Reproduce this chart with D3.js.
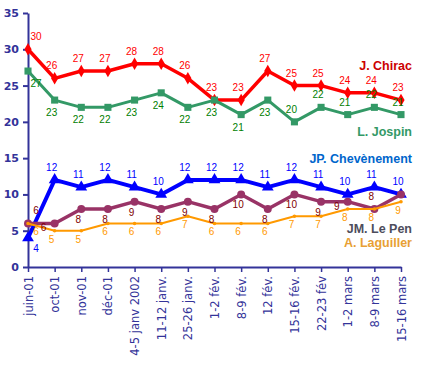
<!DOCTYPE html>
<html lang="fr">
<head>
<meta charset="UTF-8">
<title>Intentions de vote 2001-2002</title>
<script src="https://d3js.org/d3.v7.min.js"></script>
<style>
  body { margin: 0; background: #fff; }
  svg { display: block; }
</style>
</head>
<body>
<svg id="chart" width="421" height="367"></svg>
<script>
// categories (poll dates)
const dates = ["juin-01", "oct-01", "nov-01", "déc-01", "4-5 janv 2002", "11-12 janv.",
  "25-26 janv.", "1-2 fév.", "8-9 fév.", "12 fév.", "15-16 fév.", "22-23 fév",
  "1-2 mars", "8-9 mars", "15-16 mars"];

// series values
const chirac      = [30, 26, 27, 27, 28, 28, 26, 23, 23, 27, 25, 25, 24, 24, 23];
const jospin      = [27, 23, 22, 22, 23, 24, 22, 23, 21, 23, 20, 22, 21, 22, 21];
const chevenement = [4, 12, 11, 12, 11, 10, 12, 12, 12, 11, 12, 11, 10, 11, 10];
const lepen       = [6, 6, 8, 8, 9, 8, 9, 8, 10, 8, 10, 9, 9, 8, 10];
const laguiller   = [6, 5, 5, 6, 6, 6, 7, 6, 6, 6, 7, 7, 8, 8, 9];

const yTicks = [0, 5, 10, 15, 20, 25, 30, 35];

const svg = d3.select("#chart");
const axisColor = "#333399";

const x = d3.scalePoint().domain(dates).range([28, 401]);
const y = d3.scaleLinear().domain([0, 35]).range([267, 13]);

// label placement per point: "above", "below", "left" or null (hidden)
const series = [
  { name: "J. Chirac", values: chirac, color: "#ff0000", labelColor: "#ff0000", nameColor: "#cc0000",
    width: 3.5, marker: d3.symbolDiamond, size: 45, nameY: 70, below: 14,
    place: () => "above" },
  { name: "L. Jospin", values: jospin, color: "#339966", labelColor: "#008000", nameColor: "#339966",
    width: 3, marker: d3.symbolSquare, size: 50, nameY: 136, below: 16,
    place: (d, i) => i >= 10 ? "above" : "below" },
  { name: "JP. Chevènement", values: chevenement, color: "#0000ff", labelColor: "#0000ff", nameColor: "#0066cc",
    width: 4, marker: d3.symbolTriangle, size: 60, nameY: 163, below: 14,
    place: (d, i) => d < lepen[i] ? "below" : "above" },
  { name: "JM. Le Pen", values: lepen, color: "#993366", labelColor: "#800000", nameColor: "#4d4d5c",
    width: 3.5, marker: d3.symbolCircle, size: 50, nameY: 233, below: 14,
    place: (d, i) => d === chevenement[i] ? null
      : d <= laguiller[i] ? "above"
      : d - laguiller[i] <= 1 ? "left" : "below" },
  { name: "A. Laguiller", values: laguiller, color: "#ff9900", labelColor: "#ff9900", nameColor: "#e8a033",
    width: 2, marker: d3.symbolCircle, size: 10, nameY: 247, below: 12,
    place: () => "below" }
];

// y axis
const yAxis = svg.append("g")
  .attr("transform", "translate(28,0)")
  .call(d3.axisLeft(y).tickValues(yTicks).tickSize(5).tickSizeOuter(0).tickPadding(4));
yAxis.select(".domain").attr("stroke", axisColor).attr("stroke-width", 2);
yAxis.selectAll(".tick line").attr("stroke", axisColor).attr("stroke-width", 2);
yAxis.selectAll(".tick text")
  .attr("fill", axisColor)
  .style("font", "bold 11px 'DejaVu Sans', Verdana, sans-serif");

// x axis
const xAxis = svg.append("g")
  .attr("transform", "translate(0,267)")
  .call(d3.axisBottom(x).tickSize(5).tickSizeOuter(0).tickPadding(4));
xAxis.select(".domain").attr("stroke", axisColor).attr("stroke-width", 2);
xAxis.selectAll(".tick line").attr("stroke", axisColor).attr("stroke-width", 1.5);
xAxis.selectAll(".tick text")
  .attr("fill", axisColor)
  .style("font", "11.5px 'DejaVu Sans', Verdana, sans-serif")
  .attr("text-anchor", "end")
  .attr("transform", "rotate(-90)")
  .attr("x", -9)
  .attr("y", 0)
  .attr("dy", "0.35em");

const line = d3.line()
  .x((d, i) => x(dates[i]))
  .y(d => y(d));

series.forEach(s => {
  const g = svg.append("g");
  g.append("path")
    .datum(s.values)
    .attr("d", line)
    .attr("fill", "none")
    .attr("stroke", s.color)
    .attr("stroke-width", s.width)
    .attr("stroke-linejoin", "round");

  g.selectAll("path.mark")
    .data(s.values)
    .join("path")
    .attr("class", "mark")
    .attr("d", d3.symbol().type(s.marker).size(s.size))
    .attr("transform", (d, i) => `translate(${x(dates[i])},${y(d)})`)
    .attr("fill", s.color);
});

// data labels
series.forEach(s => {
  const labels = s.values
    .map((d, i) => ({ v: d, i: i, pos: s.place(d, i) }))
    .filter(l => l.pos);
  svg.append("g").selectAll("text")
    .data(labels)
    .join("text")
    .attr("x", l => x(dates[l.i]) + (l.i === 0 ? 8 : l.pos === "left" ? -11 : -3))
    .attr("y", l => y(l.v) + (l.pos === "above" ? -9 : l.pos === "left" ? 8 : s.below))
    .attr("text-anchor", "middle")
    .attr("fill", s.labelColor)
    .style("font", "10px 'Liberation Sans', Arial, sans-serif")
    .text(l => l.v);
});

// series names
svg.append("g").selectAll("text")
  .data(series)
  .join("text")
  .attr("x", 412)
  .attr("y", d => d.nameY)
  .attr("text-anchor", "end")
  .attr("fill", d => d.nameColor)
  .style("font", "bold 12.5px 'Liberation Sans', Arial, sans-serif")
  .text(d => d.name);
</script>
</body>
</html>
